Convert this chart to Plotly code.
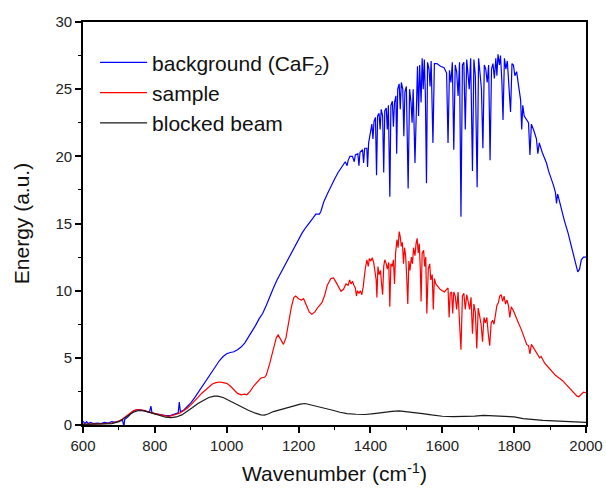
import plotly.graph_objects as go

# ---------------- data ----------------
bg_wn = [600, 605, 610, 615, 620, 630, 640, 650, 660, 670, 680, 690, 700, 710, 714, 716, 725, 735, 745, 755,
         765, 775, 785, 789, 792, 800, 815, 830, 845, 855, 865, 868, 871, 880, 890, 900, 910, 920, 930, 940,
         950, 960, 970, 980, 990, 1000, 1010, 1020, 1030, 1040, 1050, 1060, 1070, 1080, 1090, 1100, 1110, 1120,
         1130, 1140, 1150, 1160, 1170, 1180, 1190, 1200, 1210, 1220, 1230, 1240, 1248, 1258, 1262, 1270, 1280,
         1290, 1300, 1310, 1320, 1330, 1335, 1338, 1343, 1350, 1355, 1358, 1365, 1368, 1371, 1378, 1381, 1384,
         1390, 1392, 1395, 1400, 1404, 1407, 1410, 1414, 1417, 1420, 1424, 1427, 1430, 1434, 1437, 1440, 1444,
         1447, 1450, 1454, 1457, 1461, 1464, 1467, 1471, 1473, 1476, 1480, 1483, 1486, 1490, 1493, 1496, 1500,
         1505, 1509, 1513, 1516, 1519, 1524, 1528, 1531, 1534, 1537, 1541, 1544, 1547, 1550, 1553, 1556, 1559,
         1563, 1566, 1569, 1574, 1578, 1585, 1595, 1605, 1612, 1616, 1620, 1624, 1628, 1632, 1636, 1640, 1644,
         1648, 1652, 1656, 1660, 1664, 1668, 1672, 1675, 1679, 1684, 1688, 1692, 1697, 1701, 1705, 1709, 1713,
         1717, 1721, 1725, 1729, 1733, 1737, 1741, 1745, 1749, 1752, 1755, 1759, 1762, 1766, 1769, 1773, 1777,
         1781, 1785, 1790, 1794, 1798, 1802, 1807, 1811, 1815, 1818, 1821, 1824, 1828, 1832, 1836, 1840, 1844,
         1848, 1855, 1862, 1866, 1870, 1878, 1886, 1890, 1896, 1903, 1910, 1915, 1918, 1921, 1930, 1940, 1950,
         1958, 1965, 1972, 1977, 1982, 1987, 1993, 2000]
bg_energy = [0.3, 0.1, 0.25, 0.1, 0.2, 0.1, 0.15, 0.1, 0.2, 0.15, 0.25, 0.2, 0.3, 0.35, -0.1, 0.4, 0.6, 0.9, 1.1, 1.15,
             1.1, 1.0, 0.95, 1.4, 0.9, 0.85, 0.75, 0.7, 0.72, 0.8, 0.9, 1.7, 1.0, 1.1, 1.35, 1.65, 2.0, 2.4, 2.8, 3.2,
             3.6, 4.0, 4.4, 4.8, 5.1, 5.3, 5.4, 5.45, 5.6, 5.8, 6.1, 6.5, 6.9, 7.4, 7.9, 8.3, 8.9, 9.6,
             10.2, 10.8, 11.3, 11.8, 12.3, 12.9, 13.3, 13.8, 14.3, 14.7, 15.1, 15.4, 15.7, 15.7, 15.9, 16.6, 17.2,
             17.8, 18.3, 18.8, 19.2, 19.6, 19.3, 19.7, 20.0, 20.0, 19.6, 20.1, 20.2, 19.3, 20.3, 20.5, 19.5, 20.6,
             20.6, 19.2, 21.0, 22.0, 22.4, 21.3, 22.6, 22.9, 18.6, 23.0, 23.2, 22.0, 23.5, 23.0, 18.8, 23.4, 23.6,
             22.0, 23.8, 17.0, 23.8, 24.1, 22.2, 24.0, 24.5, 20.2, 25.0, 25.4, 23.5, 25.5, 25.0, 21.5, 24.8, 25.2,
             17.6, 25.0, 24.0, 22.5, 25.0, 19.5, 25.3, 26.7, 23.0, 26.8, 24.0, 27.3, 25.0, 27.2, 24.5, 18.0, 27.0,
             26.5, 25.2, 27.1, 21.0, 26.9, 26.9, 26.7, 26.6, 26.2, 21.0, 26.4, 25.5, 27.0, 20.5, 26.8, 26.3, 24.5,
             27.0, 15.5, 26.8, 27.0, 22.0, 27.2, 26.0, 25.0, 27.3, 18.9, 27.2, 26.0, 17.7, 27.3, 26.2, 25.0, 20.6,
             26.8, 26.5, 25.5, 26.8, 19.7, 26.5, 26.9, 25.8, 27.3, 26.0, 27.6, 26.8, 27.5, 25.5, 22.7, 27.3, 26.5,
             27.1, 25.0, 23.3, 26.9, 26.8, 26.0, 26.3, 25.5, 24.8, 24.2, 22.0, 23.8, 23.0, 22.8, 22.6, 22.5, 20.1,
             22.4, 21.9, 21.3, 20.2, 21.0, 20.3, 19.8, 19.5, 18.9, 18.4, 17.8, 17.3, 16.5, 17.2, 16.2, 15.2, 14.3,
             13.5, 12.7, 11.9, 11.4, 11.6, 12.3, 12.5, 12.5]

sample_wn = [600, 620, 640, 660, 680, 700, 710, 720, 730, 740, 750, 760, 770, 780, 790, 800, 810, 820, 830, 840,
             850, 860, 870, 880, 890, 900, 910, 920, 930, 940, 950, 960, 970, 980, 990, 1000, 1010, 1020, 1030, 1040,
             1050, 1056, 1065, 1075, 1085, 1095, 1105, 1110, 1120, 1130, 1138, 1143, 1150, 1158, 1165, 1172, 1180,
             1187, 1192, 1200, 1208, 1214, 1222, 1230, 1237, 1245, 1255, 1265, 1272, 1280, 1290, 1297, 1305, 1312,
             1318, 1325, 1332, 1338, 1342, 1346, 1350, 1354, 1358, 1361, 1364, 1368, 1372, 1376, 1380, 1385, 1390,
             1394, 1397, 1401, 1405, 1409, 1413, 1416, 1418, 1421, 1424, 1428, 1431, 1434, 1437, 1440, 1444, 1447,
             1451, 1454, 1457, 1461, 1464, 1467, 1470, 1474, 1477, 1480, 1483, 1486, 1489, 1492, 1495, 1498, 1501,
             1504, 1507, 1510, 1514, 1517, 1520, 1524, 1527, 1530, 1533, 1536, 1539, 1541, 1544, 1548, 1551, 1554,
             1557, 1561, 1565, 1568, 1572, 1575, 1578, 1582, 1588, 1594, 1600, 1606, 1612, 1616, 1619, 1622, 1626,
             1629, 1632, 1636, 1640, 1644, 1648, 1652, 1656, 1660, 1664, 1668, 1672, 1676, 1680, 1684, 1688, 1692,
             1696, 1700, 1704, 1708, 1712, 1716, 1720, 1724, 1728, 1732, 1736, 1740, 1744, 1748, 1752, 1756, 1760,
             1764, 1768, 1772, 1776, 1780, 1784, 1788, 1792, 1798, 1805, 1812, 1820, 1826, 1830, 1835, 1840, 1844,
             1848, 1855, 1862, 1868, 1871, 1875, 1885, 1895, 1905, 1915, 1925, 1935, 1945, 1955, 1965, 1975, 1980,
             1987, 1993, 2000]
sample_energy = [0.05, 0.05, 0.08, 0.1, 0.15, 0.3, 0.45, 0.65, 0.85, 1.05, 1.15, 1.15, 1.1, 1.0, 0.9, 0.85, 0.8, 0.72, 0.68, 0.65,
                 0.7, 0.8, 0.9, 1.05, 1.25, 1.5, 1.75, 2.05, 2.35, 2.6, 2.85, 3.05, 3.15, 3.2, 3.15, 3.1, 2.9, 2.6, 2.35, 2.25,
                 2.3, 2.25, 2.5, 2.9, 3.2, 3.5, 3.55, 3.7, 4.6, 5.7, 6.5, 6.7, 6.4, 6.0, 6.5, 7.6, 8.8,
                 9.5, 9.6, 9.4, 9.3, 9.4, 8.9, 8.4, 8.25, 8.4, 8.8, 9.1, 9.6, 10.4, 10.9, 10.95, 10.6, 10.2,
                 9.95, 10.1, 10.5, 10.4, 10.8, 10.5, 10.7, 10.4, 10.2, 9.6, 10.0, 9.8, 10.0, 9.7, 10.3, 11.5, 12.3,
                 11.8, 12.4, 12.2, 12.45, 12.1, 11.5, 10.8, 9.5, 11.8, 11.2, 11.5, 10.5, 9.7, 11.8, 12.3, 12.0, 11.6,
                 12.1, 8.8, 12.0, 11.8, 12.3, 10.5, 12.8, 13.8, 13.2, 14.4, 14.0, 13.3, 13.6, 12.0, 13.2, 12.6, 11.0,
                 9.0, 12.2, 11.5, 12.5, 12.0, 13.2, 12.6, 13.5, 13.9, 12.8, 13.5, 11.5, 9.2, 12.8, 13.0, 11.8, 12.5,
                 8.3, 11.6, 12.0, 10.8, 11.2, 8.6, 10.9, 10.5, 10.3, 10.1, 10.0, 9.9, 10.1, 10.2, 8.0, 9.8, 9.9,
                 8.3, 9.9, 9.6, 8.6, 9.9, 7.6, 5.6, 9.6, 9.8, 8.6, 9.7, 9.2, 8.6, 9.5, 6.8, 9.0, 8.4,
                 5.7, 8.7, 8.1, 7.5, 6.2, 8.0, 7.6, 8.0, 6.8, 5.9, 7.6, 7.8, 7.5, 8.4, 8.9, 9.1, 9.6,
                 9.7, 9.2, 9.6, 9.0, 9.3, 8.9, 8.0, 8.8, 8.5, 8.1, 7.6, 7.1, 6.7, 6.3, 6.0, 5.9, 5.3,
                 6.0, 5.7, 5.4, 5.1, 5.0, 5.1, 4.6, 4.3, 4.0, 3.7, 3.5, 3.3, 3.0, 2.7, 2.4, 2.15, 2.1,
                 2.3, 2.45, 2.4]

blocked_wn = [600, 650, 680, 700, 720, 740, 755, 770, 790, 810, 830, 845, 860, 875, 890, 905, 920, 935, 950, 965,
              975, 990, 1005, 1020, 1040, 1060, 1080, 1095, 1105, 1115, 1130, 1150, 1170, 1190, 1205, 1218, 1235,
              1255, 1275, 1295, 1315, 1335, 1360, 1385, 1410, 1435, 1460, 1480, 1500, 1520, 1545, 1570, 1600, 1630,
              1660, 1690, 1715, 1740, 1770, 1800, 1825, 1850, 1880, 1910, 1940, 1970, 2000]
blocked_energy = [0.05, 0.05, 0.1, 0.25, 0.6, 0.95, 1.08, 1.05, 0.9, 0.72, 0.58, 0.55, 0.6, 0.75, 1.0, 1.3, 1.6, 1.85, 2.05, 2.15,
                  2.15, 2.05, 1.85, 1.6, 1.35, 1.1, 0.88, 0.76, 0.74, 0.82, 1.0, 1.15, 1.25, 1.4, 1.55, 1.6, 1.5,
                  1.38, 1.25, 1.1, 0.95, 0.85, 0.8, 0.78, 0.85, 0.95, 1.02, 1.05, 1.0, 0.92, 0.85, 0.75, 0.65, 0.62,
                  0.62, 0.66, 0.72, 0.7, 0.66, 0.6, 0.48, 0.4, 0.35, 0.3, 0.27, 0.22, 0.2]

series_names = ["background (CaF<sub>2</sub>)", "sample", "blocked beam"]
series_colors = ["#0000ff", "#ff0000", "#1a1a1a"]

# ---------------- figure ----------------
FONT = "Liberation Sans, Arial, sans-serif"
fig = go.Figure()
for name, xs, ys, col in zip(series_names,
                             [bg_wn, sample_wn, blocked_wn],
                             [bg_energy, sample_energy, blocked_energy],
                             series_colors):
    fig.add_trace(go.Scatter(x=xs, y=ys, mode="lines", name=name,
                             line=dict(color=col, width=1.2)))

base = dict(showgrid=False, zeroline=False, tickcolor="black", tickwidth=1.5, ticklen=6, automargin=False)
tickfont = dict(family=FONT, size=15, color="#222")
minor_out = dict(ticks="outside", ticklen=3.5, tickcolor="black", tickwidth=1.3)
minor_in = dict(ticks="inside", ticklen=3.5, tickcolor="black", tickwidth=1.3)

fig.update_layout(
    width=606, height=491,
    margin=dict(l=83, r=20, t=22, b=66, autoexpand=False),
    paper_bgcolor="white", plot_bgcolor="white",
    font=dict(family=FONT, color="#111"),
    showlegend=True,
    legend=dict(x=0.024, y=0.95, xanchor="left", yanchor="top",
                bgcolor="rgba(0,0,0,0)", font=dict(family=FONT, size=21, color="#111"),
                itemwidth=47, tracegroupgap=0),
    xaxis=dict(range=[600, 2000], dtick=200, tick0=600, ticks="outside", tickfont=tickfont,
               showline=True, mirror=True, linecolor="black", linewidth=1.6,
               minor=dict(dtick=100, **minor_out),
               title=dict(text="Wavenumber (cm<sup>-1</sup>)", font=dict(family=FONT, size=21, color="#111"),
                          standoff=14),
               **base),
    yaxis=dict(range=[0, 30], dtick=5, tick0=0, ticks="outside", tickfont=tickfont,
               showline=True, mirror=True, linecolor="black", linewidth=1.6,
               minor=dict(dtick=2.5, **minor_out),
               title=dict(text="Energy (a.u.)", font=dict(family=FONT, size=21, color="#111"),
                          standoff=20),
               **base),
    # top and right frames carry inward-pointing ticks, as in the reference
    xaxis2=dict(range=[600, 2000], overlaying="x", side="top", anchor="y", dtick=200, tick0=600,
                ticks="inside", showticklabels=False, showline=False,
                minor=dict(dtick=100, **minor_in), **base),
    yaxis2=dict(range=[0, 30], overlaying="y", side="right", anchor="x", dtick=5, tick0=0,
                ticks="inside", showticklabels=False, showline=False,
                minor=dict(dtick=2.5, **minor_in), **base),
)

fig.write_html("out.html", config={"displayModeBar": False},
               post_script="document.body.style.margin='0';")
